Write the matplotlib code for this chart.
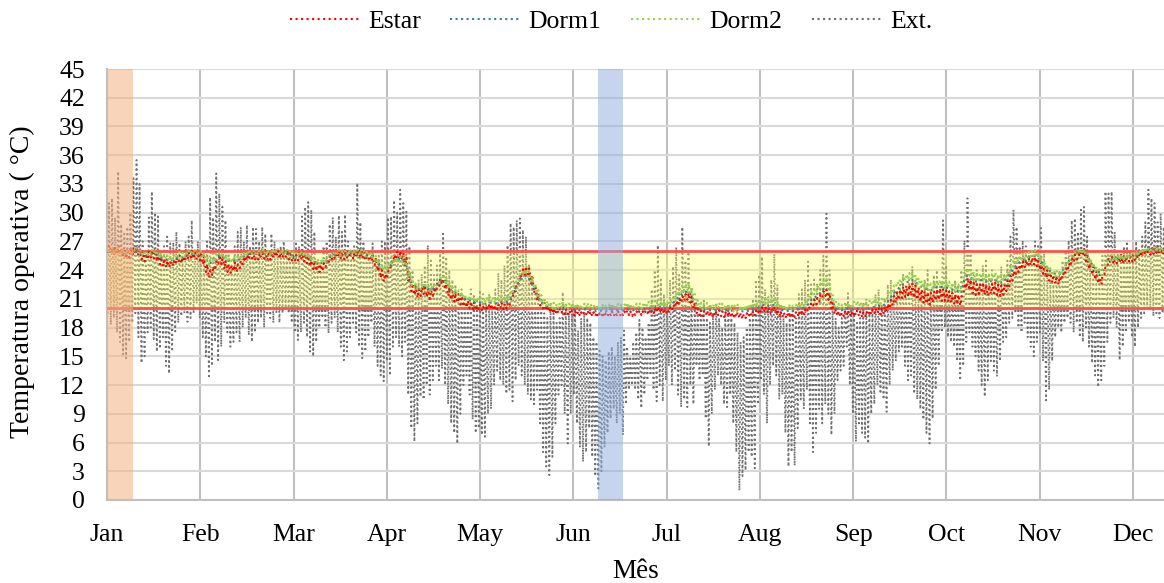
import numpy as np
import matplotlib
matplotlib.use("Agg")
import matplotlib.pyplot as plt
from matplotlib.lines import Line2D

plt.rcParams["font.family"] = ["Liberation Serif", "DejaVu Serif"]

MONTHS = ["Jan", "Feb", "Mar", "Apr", "May", "Jun",
          "Jul", "Aug", "Sep", "Oct", "Nov", "Dec"]
HOURS_PER_MONTH = 730          # month ticks every 8760/12 hours
Y_TICKS = list(range(0, 46, 3))
COMFORT_LOW, COMFORT_HIGH = 20, 26
HOT_WEEK_DAYS = (0.0, 8.5)     # highlighted summer week
COLD_WEEK_DAYS = (160.1, 168.2)  # highlighted winter week

# Outdoor temperature: daily maximum / minimum (one row per month)
EXT_MAX = [
    31.0, 31.5, 29.5, 34.3, 28.8, 27.8, 28.5, 30.0, 33.6, 35.5, 33.0, 27.0, 25.7, 29.5, 32.2, 30.0, 29.6, 25.5, 26.5, 27.5, 26.8, 26.9, 28.0, 26.8, 25.5, 27.0, 27.5, 29.2, 26.0, 27.0, 25.5,
    25.5, 27.0, 31.6, 29.5, 34.1, 32.0, 30.6, 29.2, 26.0, 24.5, 26.5, 28.0, 28.5, 27.0, 28.7, 26.5, 28.5, 28.3, 27.0, 28.5, 27.8, 26.0, 27.8, 27.0, 25.5, 26.5, 27.0, 26.0,
    26.0, 25.5, 27.0, 26.5, 29.6, 30.6, 31.1, 30.3, 28.0, 25.0, 24.5, 26.5, 27.0, 28.8, 29.5, 27.5, 29.7, 28.0, 29.8, 27.0, 26.0, 26.5, 33.1, 29.0, 27.0, 26.0, 25.0, 26.8, 24.5, 25.5, 27.0,
    27.0, 29.5, 29.6, 31.3, 30.0, 32.4, 31.0, 30.1, 26.5, 24.0, 22.5, 23.0, 23.6, 24.5, 26.6, 25.0, 23.5, 24.5, 26.0, 27.8, 25.4, 24.0, 23.0, 22.5, 21.5, 22.0, 20.5, 21.0, 22.0, 21.5,
    21.0, 21.9, 21.5, 20.5, 21.5, 20.0, 22.0, 23.7, 23.0, 24.5, 26.6, 28.9, 28.5, 29.2, 29.4, 28.2, 27.5, 24.5, 23.0, 21.5, 20.5, 20.0, 19.5, 19.0, 20.5, 19.5, 18.5, 19.0, 21.7, 20.5, 19.5,
    19.5, 20.0, 17.7, 19.0, 19.5, 19.0, 18.5, 17.0, 16.5, 15.6, 15.0, 14.6, 15.5, 16.0, 15.0, 16.5, 17.0, 17.7, 16.0, 15.0, 16.5, 17.5, 18.8, 18.0, 17.0, 18.5, 22.0, 24.0, 26.6, 23.0,
    21.5, 20.5, 23.0, 24.4, 26.4, 23.5, 28.5, 25.0, 25.9, 22.0, 20.5, 19.5, 20.0, 21.0, 19.0, 18.5, 19.5, 20.5, 19.0, 18.0, 19.5, 20.0, 19.0, 18.5, 17.5, 16.5, 17.0, 18.0, 19.0, 21.0, 23.0,
    23.5, 25.4, 22.0, 21.0, 23.0, 25.7, 22.5, 20.0, 19.0, 18.5, 19.5, 20.0, 19.0, 21.5, 22.0, 23.0, 24.9, 22.5, 23.0, 22.5, 24.0, 25.5, 29.9, 24.0, 20.0, 19.0, 18.0, 19.0, 20.5, 21.6, 20.0,
    19.5, 18.5, 19.0, 20.5, 21.0, 19.5, 20.0, 21.5, 22.0, 20.5, 21.0, 22.5, 23.0, 22.0, 21.5, 22.5, 23.5, 22.0, 23.0, 24.4, 23.0, 22.0, 21.5, 23.0, 24.0, 22.0, 23.5, 24.0, 22.5, 29.2,
    24.5, 21.5, 22.0, 23.0, 22.5, 24.0, 27.1, 31.5, 26.0, 23.5, 24.0, 23.0, 24.5, 25.2, 23.5, 24.0, 23.0, 23.5, 24.4, 23.5, 25.0, 27.5, 30.3, 28.5, 26.5, 27.1, 26.5, 25.5, 26.0, 27.0, 26.5,
    28.4, 26.0, 24.5, 23.0, 22.5, 23.5, 24.0, 25.0, 26.0, 27.1, 29.2, 29.4, 28.0, 30.3, 30.6, 27.5, 25.0, 24.0, 23.5, 24.0, 25.5, 32.2, 32.0, 32.2, 28.0, 26.0, 25.5, 26.5, 27.0, 26.0,
    25.5, 27.0, 26.1, 27.5, 29.0, 32.4, 31.5, 31.0, 29.0, 29.9, 28.5, 27.5, 27.0,
]
EXT_MIN = [
    19.5, 18.3, 19.0, 17.5, 16.5, 15.2, 14.8, 16.5, 18.5, 19.5, 17.0, 14.3, 15.0, 17.5, 18.0, 16.8, 15.5, 15.8, 17.0, 14.0, 13.2, 15.5, 17.6, 18.5, 19.2, 19.5, 18.6, 19.0, 19.5, 20.5, 19.0,
    17.0, 15.0, 12.7, 14.0, 16.5, 14.6, 16.0, 18.5, 17.5, 16.0, 16.5, 17.5, 16.5, 18.0, 19.0, 17.2, 16.5, 17.5, 18.5, 19.0, 18.0, 19.5, 19.0, 18.5, 19.5, 18.5, 19.5, 20.0,
    19.5, 18.5, 17.5, 16.7, 17.5, 18.5, 17.0, 15.5, 15.0, 16.5, 18.0, 19.0, 18.0, 17.4, 18.5, 19.0, 17.5, 16.0, 14.6, 15.5, 17.0, 18.5, 17.5, 16.0, 14.8, 15.5, 17.0, 18.5, 16.0, 14.0, 13.0,
    12.4, 14.5, 13.0, 16.0, 17.0, 16.0, 15.0, 16.5, 11.0, 7.5, 6.1, 8.0, 10.8, 10.5, 12.0, 11.0, 12.5, 14.0, 12.5, 13.7, 12.0, 10.0, 8.0, 7.0, 5.9, 9.0, 12.0, 13.0, 11.0, 8.4,
    7.0, 7.5, 6.8, 6.6, 9.0, 9.5, 12.0, 13.5, 12.5, 12.0, 11.1, 11.5, 10.3, 12.5, 14.0, 13.0, 12.0, 11.0, 10.5, 10.0, 11.5, 8.0, 5.0, 3.5, 2.6, 4.5, 8.0, 11.0, 12.0, 9.0, 5.9,
    9.0, 11.0, 8.0, 5.5, 4.0, 5.0, 7.5, 4.5, 2.5, 1.2, 3.0, 5.5, 7.0, 8.5, 9.5, 8.0, 9.0, 6.8, 10.0, 11.5, 12.0, 11.5, 10.5, 9.6, 11.0, 12.5, 13.0, 11.5, 10.3, 12.0,
    10.3, 12.5, 14.0, 12.0, 13.5, 11.0, 9.7, 10.5, 9.7, 12.0, 10.0, 14.0, 12.5, 13.0, 8.5, 5.6, 9.0, 11.5, 13.0, 12.0, 10.0, 9.7, 11.0, 8.0, 5.0, 1.0, 2.5, 3.1, 5.0, 4.5, 3.3,
    10.0, 12.5, 11.0, 8.0, 12.0, 14.0, 13.0, 10.5, 11.0, 7.0, 3.5, 5.0, 3.6, 7.5, 10.5, 9.5, 11.5, 8.0, 5.0, 7.0, 9.5, 8.0, 10.0, 9.0, 6.8, 9.0, 12.5, 13.5, 14.0, 16.0, 12.0,
    9.0, 6.1, 8.0, 7.0, 6.5, 5.9, 9.0, 10.0, 12.0, 11.1, 10.5, 9.2, 12.0, 13.5, 14.5, 15.5, 16.0, 14.0, 12.5, 13.0, 11.1, 10.5, 9.5, 8.4, 7.0, 5.9, 8.5, 11.5, 14.0, 17.5,
    18.0, 17.0, 16.5, 16.0, 14.5, 12.5, 14.0, 16.5, 17.5, 16.0, 15.0, 13.5, 12.0, 10.8, 12.5, 14.5, 13.5, 12.9, 14.5, 16.5, 17.0, 18.5, 19.0, 19.5, 18.0, 17.5, 18.5, 17.0, 16.0, 15.0, 16.5,
    17.5, 14.5, 10.4, 11.5, 14.5, 17.0, 18.0, 17.5, 18.5, 19.0, 18.5, 17.5, 18.5, 17.0, 16.5, 18.0, 16.0, 14.3, 13.0, 11.8, 12.5, 14.0, 16.5, 18.5, 19.0, 18.0, 14.6, 16.0, 17.5, 18.5,
    17.0, 16.0, 18.0, 19.0, 19.5, 20.0, 19.8, 19.2, 19.5, 19.0, 19.5, 20.0, 19.5,
]

# Living room (Estar): daily high / low operative temperature
ESTAR_HI = [
    26.6, 26.5, 26.4, 26.6, 26.3, 26.2, 26.0, 26.2, 26.4, 26.5, 26.3, 25.9, 25.7, 25.9, 26.1, 26.0, 25.8, 25.4, 25.2, 25.0, 24.9, 25.0, 25.3, 25.5, 25.4, 25.6, 25.8, 26.0, 25.9, 25.8, 25.9,
    25.4, 24.6, 24.0, 24.4, 25.0, 25.6, 25.5, 25.0, 24.6, 24.5, 24.8, 24.6, 25.0, 25.4, 25.6, 25.8, 25.9, 25.7, 25.8, 26.0, 25.9, 25.7, 25.8, 26.0, 26.1, 25.9, 26.0, 26.1,
    25.9, 25.7, 25.6, 25.8, 25.9, 25.7, 25.5, 25.3, 25.0, 24.8, 24.6, 24.7, 25.1, 25.5, 25.8, 25.9, 26.0, 25.9, 25.8, 26.0, 26.1, 25.9, 26.0, 26.1, 25.9, 25.7, 25.8, 25.6, 25.3, 24.7, 24.0,
    23.6, 23.9, 24.8, 25.6, 25.9, 26.0, 25.8, 25.3, 23.8, 22.6, 22.3, 22.0, 22.2, 22.4, 22.1, 21.9, 22.2, 22.6, 23.1, 23.4, 22.9, 22.2, 21.8, 21.6, 21.5, 21.3, 21.0, 20.8, 20.7, 20.6,
    20.3, 20.4, 20.2, 20.3, 20.5, 20.4, 20.3, 20.4, 20.6, 20.5, 20.6, 21.0, 21.8, 22.7, 23.5, 24.1, 24.4, 24.2, 23.5, 22.5, 21.6, 21.0, 20.6, 20.3, 20.1, 20.0, 19.9, 20.0, 20.1, 19.9, 19.8,
    19.8, 19.7, 19.7, 19.6, 19.7, 19.8, 19.7, 19.6, 19.6, 19.5, 19.6, 19.5, 19.6, 19.7, 19.6, 19.7, 19.6, 19.7, 19.8, 19.7, 19.6, 19.7, 19.8, 19.7, 19.8, 19.9, 19.8, 20.0, 20.2, 20.1,
    20.0, 19.9, 20.1, 20.4, 20.8, 21.0, 21.3, 21.5, 21.6, 21.2, 20.5, 20.0, 19.8, 19.7, 19.8, 19.7, 19.6, 19.7, 19.8, 19.7, 19.6, 19.7, 19.6, 19.5, 19.6, 19.5, 19.4, 19.5, 19.6, 19.7, 19.8,
    19.9, 20.1, 20.2, 20.1, 20.0, 20.2, 19.9, 19.7, 19.6, 19.5, 19.6, 19.5, 19.6, 19.7, 19.8, 19.9, 20.2, 20.6, 20.9, 21.1, 21.4, 21.8, 22.0, 21.6, 20.6, 19.9, 19.7, 19.6, 19.7, 19.8, 19.7,
    19.7, 19.8, 19.7, 19.6, 19.7, 19.8, 19.9, 20.0, 20.1, 20.0, 20.2, 20.5, 20.9, 21.3, 21.7, 22.0, 22.3, 22.4, 22.5, 22.6, 22.4, 22.2, 22.0, 21.8, 21.7, 21.6, 21.8, 22.0, 22.1, 22.0,
    21.9, 21.8, 21.6, 21.5, 21.4, 21.2, 22.6, 23.2, 23.0, 22.7, 22.5, 22.6, 22.7, 22.5, 22.4, 22.6, 22.7, 22.5, 22.4, 22.5, 22.9, 23.4, 23.9, 24.3, 24.6, 24.9, 25.1, 25.2, 25.3, 25.4, 25.2,
    24.8, 24.4, 24.0, 23.7, 23.5, 23.4, 23.3, 23.7, 24.2, 24.7, 25.2, 25.6, 25.9, 26.1, 26.2, 25.7, 25.0, 24.4, 23.9, 23.5, 23.5, 24.5, 25.3, 25.5, 25.4, 25.5, 25.6, 25.5, 25.6, 25.7,
    25.6, 25.7, 25.9, 26.1, 26.2, 26.3, 26.2, 26.3, 26.4, 26.3, 26.2, 26.3, 26.4,
]
ESTAR_LO = [
    25.8, 25.9, 25.7, 25.8, 25.6, 25.4, 25.2, 25.3, 25.6, 25.8, 25.5, 25.1, 24.9, 25.1, 25.3, 25.2, 24.9, 24.6, 24.4, 24.3, 24.3, 24.4, 24.6, 24.8, 24.7, 24.9, 25.1, 25.3, 25.2, 25.1, 25.0,
    24.6, 23.8, 23.2, 23.5, 24.0, 24.7, 24.6, 24.1, 23.8, 23.7, 23.9, 23.8, 24.2, 24.6, 24.9, 25.1, 25.2, 25.0, 25.1, 25.3, 25.2, 25.0, 25.1, 25.3, 25.4, 25.2, 25.3, 25.4,
    25.1, 25.0, 24.9, 25.0, 25.1, 24.9, 24.7, 24.4, 24.1, 23.9, 23.8, 23.9, 24.3, 24.8, 25.1, 25.2, 25.3, 25.2, 25.1, 25.3, 25.4, 25.2, 25.3, 25.4, 25.2, 25.0, 25.1, 24.9, 24.5, 23.9, 23.2,
    22.8, 23.1, 23.9, 24.8, 25.1, 25.2, 25.0, 24.4, 22.9, 21.8, 21.4, 21.1, 21.3, 21.5, 21.2, 21.0, 21.3, 21.7, 22.2, 22.5, 22.0, 21.3, 20.9, 20.7, 20.6, 20.4, 20.2, 20.1, 20.0, 19.9,
    19.8, 19.9, 19.8, 19.8, 19.9, 19.9, 19.8, 19.9, 20.0, 19.9, 20.0, 20.3, 21.0, 21.8, 22.6, 23.2, 23.5, 23.3, 22.6, 21.6, 20.8, 20.3, 20.0, 19.8, 19.6, 19.5, 19.4, 19.5, 19.6, 19.4, 19.4,
    19.4, 19.3, 19.3, 19.2, 19.3, 19.4, 19.3, 19.2, 19.2, 19.1, 19.2, 19.1, 19.2, 19.3, 19.2, 19.3, 19.2, 19.3, 19.4, 19.3, 19.2, 19.3, 19.4, 19.3, 19.4, 19.5, 19.4, 19.5, 19.6, 19.6,
    19.5, 19.4, 19.6, 19.8, 20.1, 20.3, 20.6, 20.8, 20.9, 20.6, 20.0, 19.5, 19.3, 19.2, 19.3, 19.2, 19.1, 19.2, 19.3, 19.2, 19.1, 19.2, 19.1, 19.0, 19.1, 19.0, 18.9, 19.0, 19.1, 19.2, 19.3,
    19.4, 19.6, 19.7, 19.6, 19.5, 19.7, 19.4, 19.2, 19.1, 19.0, 19.1, 19.0, 19.1, 19.2, 19.3, 19.4, 19.6, 20.0, 20.3, 20.4, 20.7, 21.1, 21.3, 20.9, 20.0, 19.4, 19.2, 19.1, 19.2, 19.3, 19.2,
    19.2, 19.3, 19.2, 19.1, 19.2, 19.3, 19.4, 19.5, 19.5, 19.4, 19.5, 19.7, 20.0, 20.3, 20.6, 20.9, 21.1, 21.2, 21.2, 21.3, 21.1, 20.9, 20.7, 20.6, 20.5, 20.4, 20.6, 20.8, 20.9, 20.8,
    20.8, 20.7, 20.6, 20.5, 20.4, 20.3, 21.5, 22.1, 21.9, 21.6, 21.4, 21.5, 21.6, 21.4, 21.3, 21.5, 21.6, 21.4, 21.3, 21.4, 21.8, 22.3, 22.9, 23.4, 23.8, 24.1, 24.3, 24.4, 24.5, 24.6, 24.4,
    24.0, 23.6, 23.2, 22.9, 22.7, 22.6, 22.5, 22.9, 23.4, 23.9, 24.4, 24.8, 25.1, 25.4, 25.5, 24.9, 24.1, 23.5, 23.0, 22.6, 22.5, 23.6, 24.5, 24.7, 24.6, 24.7, 24.8, 24.7, 24.8, 24.9,
    24.9, 25.0, 25.2, 25.4, 25.6, 25.7, 25.6, 25.7, 25.8, 25.7, 25.6, 25.7, 25.8,
]

# Bedroom 1: daily mean operative temperature
DORM1 = [
    25.9, 25.9, 25.8, 25.9, 25.8, 25.7, 25.6, 25.7, 25.8, 25.9, 25.8, 25.6, 25.5, 25.6, 25.7, 25.7, 25.5, 25.3, 25.2, 25.1, 25.0, 25.1, 25.2, 25.4, 25.3, 25.4, 25.6, 25.7, 25.7, 25.6, 25.6,
    25.4, 25.0, 24.7, 24.9, 25.2, 25.5, 25.4, 25.2, 25.0, 24.9, 25.0, 25.0, 25.2, 25.4, 25.6, 25.7, 25.8, 25.7, 25.7, 25.8, 25.8, 25.7, 25.7, 25.8, 25.9, 25.8, 25.8, 25.9,
    25.6, 25.5, 25.4, 25.5, 25.6, 25.5, 25.3, 25.1, 24.9, 24.8, 24.7, 24.8, 25.0, 25.3, 25.5, 25.6, 25.7, 25.6, 25.6, 25.7, 25.8, 25.7, 25.7, 25.8, 25.7, 25.5, 25.6, 25.4, 25.1, 24.7, 24.2,
    24.0, 24.1, 24.5, 24.9, 25.1, 25.2, 25.0, 24.6, 23.4, 22.5, 22.2, 22.0, 22.1, 22.3, 22.1, 21.9, 22.1, 22.4, 22.8, 23.1, 22.8, 22.2, 21.8, 21.6, 21.5, 21.3, 21.0, 20.9, 20.8, 20.7,
    20.5, 20.6, 20.5, 20.5, 20.6, 20.6, 20.5, 20.6, 20.7, 20.6, 20.7, 21.0, 21.6, 22.3, 22.9, 23.3, 23.4, 23.2, 22.6, 21.9, 21.2, 20.8, 20.4, 20.2, 20.1, 20.0, 19.9, 20.0, 20.0, 19.9, 19.9,
    19.9, 19.9, 19.8, 19.8, 19.9, 19.9, 19.8, 19.8, 19.7, 19.7, 19.8, 19.7, 19.8, 19.8, 19.8, 19.8, 19.8, 19.8, 19.9, 19.9, 19.8, 19.9, 19.9, 19.9, 19.9, 20.0, 20.0, 20.1, 20.3, 20.2,
    20.1, 20.0, 20.2, 20.5, 20.9, 21.2, 21.5, 21.7, 21.8, 21.4, 20.8, 20.3, 20.0, 19.9, 19.9, 19.8, 19.8, 19.8, 19.9, 19.8, 19.8, 19.8, 19.8, 19.7, 19.8, 19.7, 19.7, 19.7, 19.8, 19.9, 19.9,
    20.1, 20.3, 20.4, 20.3, 20.2, 20.4, 20.1, 19.9, 19.8, 19.7, 19.8, 19.7, 19.8, 19.9, 20.0, 20.1, 20.4, 20.8, 21.1, 21.3, 21.6, 22.0, 22.2, 21.8, 20.8, 20.1, 19.9, 19.8, 19.9, 20.0, 19.9,
    19.9, 20.0, 19.9, 19.8, 19.9, 20.0, 20.1, 20.2, 20.3, 20.2, 20.4, 20.7, 21.1, 21.5, 21.9, 22.2, 22.5, 22.7, 22.8, 23.0, 22.8, 22.5, 22.3, 22.1, 22.0, 21.9, 22.0, 22.2, 22.3, 22.2,
    22.2, 22.1, 22.0, 21.9, 21.8, 21.6, 22.9, 23.4, 23.3, 23.0, 22.8, 22.9, 23.0, 22.8, 22.7, 22.9, 23.0, 22.8, 22.7, 22.8, 23.2, 23.6, 24.1, 24.5, 24.8, 25.0, 25.2, 25.3, 25.4, 25.5, 25.3,
    25.0, 24.6, 24.2, 23.9, 23.7, 23.6, 23.5, 23.9, 24.4, 24.9, 25.3, 25.6, 25.8, 26.0, 26.0, 25.6, 25.0, 24.5, 24.1, 23.8, 23.8, 24.6, 25.2, 25.3, 25.2, 25.3, 25.4, 25.3, 25.4, 25.5,
    25.5, 25.6, 25.8, 26.0, 26.1, 26.1, 26.0, 26.1, 26.2, 26.1, 26.0, 26.1, 26.2,
]

# Bedroom 2: daily high / low operative temperature
DORM2_HI = [
    26.3, 26.3, 26.2, 26.3, 26.2, 26.1, 26.0, 26.1, 26.2, 26.3, 26.2, 26.0, 25.9, 26.0, 26.1, 26.1, 25.9, 25.8, 25.7, 25.6, 25.5, 25.6, 25.7, 25.9, 25.8, 25.9, 26.0, 26.1, 26.1, 26.0, 26.0,
    25.8, 25.4, 25.1, 25.3, 25.6, 25.9, 25.8, 25.6, 25.4, 25.3, 25.4, 25.4, 25.6, 25.8, 26.0, 26.1, 26.1, 26.0, 26.1, 26.2, 26.1, 26.0, 26.1, 26.2, 26.2, 26.1, 26.2, 26.2,
    26.0, 25.9, 25.8, 25.9, 26.0, 25.9, 25.7, 25.5, 25.3, 25.2, 25.1, 25.2, 25.4, 25.7, 25.9, 26.0, 26.1, 26.0, 26.0, 26.1, 26.2, 26.1, 26.1, 26.2, 26.1, 25.9, 26.0, 25.8, 25.5, 25.1, 24.6,
    24.5, 24.6, 24.9, 25.2, 25.3, 25.4, 25.3, 24.9, 23.9, 22.9, 22.6, 22.4, 22.5, 22.7, 22.5, 22.3, 22.5, 22.8, 23.2, 23.6, 23.3, 22.7, 22.2, 22.0, 21.9, 21.7, 21.5, 21.3, 21.3, 21.2,
    21.2, 21.3, 21.1, 21.2, 21.3, 21.2, 21.1, 21.2, 21.4, 21.3, 21.4, 21.8, 22.4, 23.1, 23.6, 24.0, 24.1, 23.9, 23.3, 22.6, 21.9, 21.4, 21.0, 20.8, 20.7, 20.6, 20.5, 20.6, 20.7, 20.5, 20.5,
    20.6, 20.5, 20.5, 20.4, 20.5, 20.6, 20.5, 20.4, 20.4, 20.3, 20.4, 20.3, 20.4, 20.5, 20.4, 20.5, 20.4, 20.5, 20.6, 20.5, 20.4, 20.5, 20.6, 20.5, 20.6, 20.7, 20.6, 20.8, 21.0, 20.9,
    20.8, 20.7, 20.9, 21.3, 21.8, 22.1, 22.4, 22.6, 22.7, 22.3, 21.5, 20.9, 20.6, 20.5, 20.6, 20.5, 20.4, 20.5, 20.6, 20.5, 20.4, 20.5, 20.4, 20.3, 20.4, 20.3, 20.3, 20.4, 20.5, 20.6, 20.7,
    20.9, 21.1, 21.3, 21.2, 21.0, 21.2, 20.8, 20.5, 20.4, 20.3, 20.4, 20.3, 20.4, 20.5, 20.7, 20.9, 21.3, 21.7, 22.0, 22.3, 22.6, 23.0, 23.1, 22.6, 21.4, 20.7, 20.5, 20.4, 20.5, 20.6, 20.5,
    20.7, 20.8, 20.7, 20.6, 20.7, 20.8, 20.9, 21.0, 21.1, 21.0, 21.2, 21.6, 22.0, 22.4, 22.8, 23.1, 23.4, 23.6, 23.7, 23.8, 23.5, 23.2, 22.9, 22.8, 22.7, 22.6, 22.8, 22.9, 23.0, 22.9,
    22.9, 22.8, 22.7, 22.6, 22.5, 22.4, 23.7, 24.2, 24.1, 23.8, 23.6, 23.7, 23.8, 23.6, 23.5, 23.7, 23.8, 23.6, 23.5, 23.6, 24.0, 24.4, 24.9, 25.2, 25.5, 25.7, 25.8, 25.9, 26.0, 26.1, 25.9,
    25.3, 24.9, 24.5, 24.2, 24.0, 23.9, 23.8, 24.2, 24.7, 25.2, 25.6, 25.9, 26.1, 26.2, 26.2, 25.8, 25.2, 24.8, 24.4, 24.1, 24.1, 24.9, 25.5, 25.6, 25.5, 25.6, 25.7, 25.6, 25.7, 25.8,
    25.8, 25.9, 26.1, 26.3, 26.4, 26.4, 26.3, 26.4, 26.5, 26.4, 26.3, 26.4, 26.5,
]
DORM2_LO = [
    25.9, 25.9, 25.8, 25.9, 25.8, 25.7, 25.6, 25.7, 25.8, 25.9, 25.8, 25.6, 25.5, 25.6, 25.7, 25.7, 25.5, 25.3, 25.2, 25.1, 25.0, 25.1, 25.2, 25.4, 25.3, 25.4, 25.6, 25.7, 25.7, 25.6, 25.6,
    25.3, 24.9, 24.6, 24.8, 25.1, 25.4, 25.3, 25.1, 24.9, 24.8, 24.9, 24.9, 25.1, 25.3, 25.5, 25.6, 25.7, 25.6, 25.6, 25.7, 25.7, 25.6, 25.6, 25.7, 25.8, 25.7, 25.7, 25.8,
    25.5, 25.4, 25.3, 25.4, 25.5, 25.4, 25.2, 25.0, 24.8, 24.7, 24.6, 24.7, 24.9, 25.2, 25.4, 25.5, 25.6, 25.5, 25.5, 25.6, 25.7, 25.6, 25.6, 25.7, 25.6, 25.4, 25.5, 25.3, 25.0, 24.6, 24.1,
    24.0, 24.1, 24.4, 24.7, 24.8, 24.9, 24.8, 24.4, 23.3, 22.4, 22.1, 21.9, 22.0, 22.2, 22.0, 21.8, 22.0, 22.3, 22.7, 23.0, 22.7, 22.1, 21.7, 21.5, 21.4, 21.2, 21.0, 20.8, 20.8, 20.7,
    20.6, 20.7, 20.6, 20.6, 20.7, 20.7, 20.6, 20.7, 20.8, 20.7, 20.8, 21.1, 21.7, 22.4, 23.0, 23.4, 23.5, 23.3, 22.7, 22.0, 21.3, 20.8, 20.4, 20.2, 20.1, 20.0, 19.9, 20.0, 20.1, 19.9, 19.9,
    20.1, 20.0, 20.0, 19.9, 20.0, 20.1, 20.0, 19.9, 19.9, 19.8, 19.9, 19.8, 19.9, 20.0, 19.9, 20.0, 19.9, 20.0, 20.1, 20.0, 19.9, 20.0, 20.1, 20.0, 20.1, 20.2, 20.1, 20.2, 20.4, 20.3,
    20.2, 20.1, 20.3, 20.6, 21.0, 21.3, 21.6, 21.8, 21.9, 21.6, 20.9, 20.3, 20.0, 19.9, 20.0, 19.9, 19.8, 19.9, 20.0, 19.9, 19.8, 19.9, 19.8, 19.7, 19.8, 19.7, 19.7, 19.8, 19.9, 20.0, 20.1,
    20.3, 20.5, 20.6, 20.5, 20.4, 20.6, 20.2, 20.0, 19.9, 19.8, 19.9, 19.8, 19.9, 20.0, 20.1, 20.3, 20.6, 21.0, 21.3, 21.6, 21.9, 22.3, 22.4, 22.0, 20.9, 20.2, 20.0, 19.9, 20.0, 20.1, 20.0,
    20.2, 20.3, 20.2, 20.1, 20.2, 20.3, 20.4, 20.5, 20.6, 20.5, 20.7, 21.0, 21.4, 21.8, 22.2, 22.5, 22.7, 22.9, 23.0, 23.1, 22.8, 22.5, 22.2, 22.1, 22.0, 21.9, 22.1, 22.3, 22.4, 22.3,
    22.2, 22.1, 22.0, 21.9, 21.8, 21.7, 23.0, 23.5, 23.4, 23.1, 22.9, 23.0, 23.1, 22.9, 22.8, 23.0, 23.1, 22.9, 22.8, 22.9, 23.3, 23.7, 24.2, 24.6, 24.9, 25.1, 25.2, 25.3, 25.4, 25.5, 25.3,
    24.7, 24.3, 23.9, 23.6, 23.4, 23.3, 23.2, 23.6, 24.1, 24.6, 25.0, 25.3, 25.5, 25.7, 25.7, 25.3, 24.7, 24.2, 23.8, 23.5, 23.5, 24.3, 24.9, 25.0, 24.9, 25.0, 25.1, 25.0, 25.1, 25.2,
    25.2, 25.3, 25.5, 25.7, 25.8, 25.9, 25.8, 25.9, 26.0, 25.9, 25.8, 25.9, 26.0,
]


def hour_to_month(hours):
    return np.asarray(hours, dtype=float) / HOURS_PER_MONTH


def day_cycle(low, high, h_low, h_high):
    """Alternate each day's low (at h_low) and high (at h_high)."""
    low = np.asarray(low, dtype=float)
    high = np.asarray(high, dtype=float)
    days = np.arange(len(low))
    x = np.empty(2 * len(low))
    y = np.empty(2 * len(low))
    x[0::2] = hour_to_month(days * 24 + h_low)
    x[1::2] = hour_to_month(days * 24 + h_high)
    y[0::2] = low
    y[1::2] = high
    return x, y


C_ESTAR = "#ff0000"
C_DORM1 = "#31859c"
C_DORM2 = "#92d050"
C_EXT = "#6f6f6f"

fig = plt.figure(figsize=(11.64, 5.83), dpi=100)
ax = fig.add_axes([107 / 1164, 1 - 500 / 583, 1 - 107 / 1164, 431 / 583])

x_ext, y_ext = day_cycle(EXT_MIN, EXT_MAX, 6, 15)
ax.plot(x_ext, y_ext, color=C_EXT, ls=":", lw=1.3, zorder=2)

# comfort band
ax.axhspan(COMFORT_LOW, COMFORT_HIGH, color="#ffff64", alpha=0.35, lw=0, zorder=3)
for lim in (COMFORT_LOW, COMFORT_HIGH):
    ax.axhline(lim, color="#ff5050", lw=2.0, zorder=3.5)

x_es, y_es = day_cycle(ESTAR_LO, ESTAR_HI, 7, 16)
ax.plot(x_es, y_es, color=C_ESTAR, ls=":", lw=1.5, zorder=4)
x_d1 = hour_to_month(np.arange(len(DORM1)) * 24 + 12)
ax.plot(x_d1, DORM1, color=C_DORM1, ls=":", lw=1.5, zorder=4.1)
x_d2, y_d2 = day_cycle(DORM2_LO, DORM2_HI, 7, 16)
ax.plot(x_d2, y_d2, color=C_DORM2, ls=":", lw=1.5, zorder=4.2)

# highlighted weeks
ax.axvspan(*hour_to_month(np.array(HOT_WEEK_DAYS) * 24), color="#f4b183",
           alpha=0.55, lw=0, zorder=6)
ax.axvspan(*hour_to_month(np.array(COLD_WEEK_DAYS) * 24), color="#8faadc",
           alpha=0.5, lw=0, zorder=6)

ax.set_xlim(0, 11.333)
ax.set_ylim(0, 45)
ax.set_yticks(Y_TICKS)
ax.set_xticks(range(12))
ax.set_xticklabels(MONTHS)
ax.tick_params(axis="both", length=0, labelsize=18.5)
ax.tick_params(axis="y", pad=16)
ax.tick_params(axis="x", pad=17)
ax.set_axisbelow(True)
ax.grid(axis="y", color="#d9d9d9", lw=1.5)
ax.grid(axis="x", color="#bfbfbf", lw=1.5)
for side in ("top", "right"):
    ax.spines[side].set_visible(False)
for side in ("left", "bottom"):
    ax.spines[side].set_color("#bfbfbf")
    ax.spines[side].set_linewidth(1.5)

fig.text(22 / 1164, 1 - 282 / 583, "Temperatura operativa ( °C)", rotation=90,
         ha="center", va="center", fontsize=20)
fig.text(636 / 1164, 1 - 571 / 583, "Mês", ha="center", va="center", fontsize=19.5)

handles = [Line2D([], [], color=c, ls=":", lw=1.5) for c in (C_ESTAR, C_DORM1, C_DORM2, C_EXT)]
fig.legend(handles, ["Estar", "Dorm1", "Dorm2", "Ext."], loc="center",
           bbox_to_anchor=(611 / 1164, 1 - 22 / 583), ncol=4, frameon=False,
           fontsize=18.5, handlelength=2.7, handletextpad=0.35, columnspacing=1.15)

fig.savefig("out.png", dpi=100)
